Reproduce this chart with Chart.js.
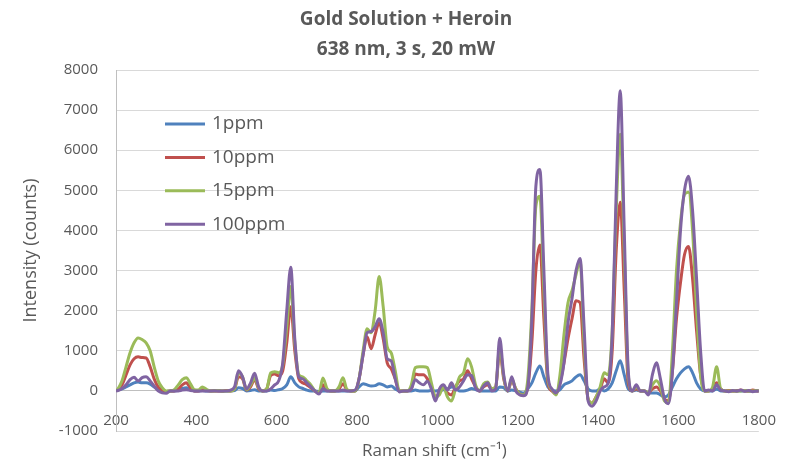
<!DOCTYPE html>
<html lang="en">
<head>
    <meta charset="UTF-8">
    <title>Gold Solution + Heroin</title>
    <script src="https://cdn.jsdelivr.net/npm/chart.js@4.4.1/dist/chart.umd.min.js"></script>
    <style>
        body { margin: 0; background: #fff; }
        #wrap { width: 797px; height: 463px; }
    </style>
</head>
<body>
    <div id="wrap"><canvas id="raman-chart"></canvas></div>

    <script>
        // Raman shift (cm-1) sampling points
        var shifts = [200,
            205, 215, 225, 235, 245, 255, 265, 275, 285, 295,
            305, 315, 325, 335, 345, 355, 365, 375, 385, 395,
            405, 415, 425, 435, 445, 455, 465, 475, 485, 495,
            505, 515, 525, 535, 545, 555, 565, 575, 585, 595,
            605, 615, 625, 635, 645, 655, 665, 675, 685, 695,
            705, 715, 725, 735, 745, 755, 765, 775, 785, 795,
            805, 815, 825, 835, 845, 855, 865, 875, 885, 895,
            905, 915, 925, 935, 945, 955, 965, 975, 985, 995,
            1005, 1015, 1025, 1035, 1045, 1055, 1065, 1075, 1085, 1095,
            1105, 1115, 1125, 1135, 1145, 1155, 1165, 1175, 1185, 1195,
            1205, 1215, 1225, 1235, 1245, 1255, 1265, 1275, 1285, 1295,
            1305, 1315, 1325, 1335, 1345, 1355, 1365, 1375, 1385, 1395,
            1405, 1415, 1425, 1435, 1445, 1455, 1465, 1475, 1485, 1495,
            1505, 1515, 1525, 1535, 1545, 1555, 1565, 1575, 1585, 1595,
            1605, 1615, 1625, 1635, 1645, 1655, 1665, 1675, 1685, 1695,
            1705, 1715, 1725, 1735, 1745, 1755, 1765, 1775, 1785, 1795,
            1800];

        var ppm1 = [0,
            20, 50, 100, 150, 200, 220, 200, 200, 170, 100,
            40, 0, -20, 0, 0, 20, 60, 80, 30, 0,
            0, 10, 0, 0, 10, 0, -10, 0, 0, 10,
            80, 60, 0, 10, 30, 0, 0, 0, 20, 10,
            30, 60, 150, 350, 200, 100, 60, 20, 0, 0,
            -20, 0, 0, 0, 0, 0, 0, 0, 0, 0,
            100, 180, 150, 120, 130, 180, 150, 100, 120, 50,
            0, 0, 0, 0, 20, 0, 0, 0, 10, 0,
            10, 30, 50, 100, 80, 0, 0, 20, 60, 30,
            0, 0, 0, 0, 0, 100, 80, 0, 20, 0,
            -30, -50, 50, 200, 450, 620, 350, 100, 20, 0,
            30, 150, 200, 250, 350, 400, 250, 50, 0, 0,
            50, 0, 50, 200, 500, 750, 400, 50, 0, 20,
            0, 0, -50, -50, -50, -100, -150, -100, 100, 300,
            450, 550, 600, 450, 200, 50, 0, 0, 0, 50,
            0, 0, 0, 0, 10, 0, 0, -10, 0, 0,
            0];

        var ppm10 = [0,
            30, 150, 400, 650, 800, 850, 830, 820, 600, 300,
            100, 30, -20, 0, 0, 50, 150, 200, 80, 0,
            0, 30, 10, 0, 0, 0, 0, 10, 0, 50,
            350, 300, 20, 100, 280, 50, 0, 50, 380, 420,
            380, 500, 1200, 2100, 1000, 300, 200, 150, 80, 0,
            -50, 150, 20, 0, 0, 50, 180, 20, 0, 0,
            300, 900, 1350, 1050, 1400, 1700, 1300, 700, 550, 300,
            0, 0, 0, 50, 420, 400, 400, 300, 100, -150,
            -50, 100, -50, -100, 100, 250, 300, 500, 300, 100,
            0, 100, 150, 50, 100, 1000, 300, 0, 250, 50,
            -80, -100, 100, 1200, 3000, 3640, 1800, 200, 0, -80,
            200, 700, 1300, 1800, 2250, 2200, 800, -200, -300, -150,
            50, 300, 200, 1000, 3500, 4700, 2500, 200, 0, 50,
            0, 0, -50, 50, 100, 0, -200, -250, 500, 1800,
            2700, 3400, 3600, 2800, 1500, 400, 0, 0, 50, 200,
            50, 0, 10, 0, 0, 20, 0, 0, 20, 0,
            0];

        var ppm15 = [0,
            50, 250, 600, 950, 1200, 1320, 1280, 1200, 1000, 600,
            250, 80, 0, 0, 30, 150, 280, 330, 180, 30,
            20, 100, 40, 0, 0, 10, 0, 0, 0, 50,
            450, 350, 30, 150, 320, 80, 0, 50, 450, 480,
            450, 650, 1600, 2600, 1200, 400, 350, 250, 150, 0,
            -50, 320, 60, 0, 0, 100, 330, 30, 0, 0,
            300, 1000, 1550, 1450, 2000, 2850, 2100, 1100, 950, 500,
            0, 0, 0, 150, 580, 600, 600, 580, 200, -150,
            -100, 100, -150, -250, 50, 350, 450, 800, 600, 150,
            0, 180, 220, 50, 100, 1100, 350, 0, 300, 50,
            -80, -100, 300, 2000, 4600, 4850, 2500, 300, 30, -100,
            400, 1400, 2200, 2500, 2900, 3250, 1200, -200, -300, -150,
            100, 450, 400, 1500, 4500, 6400, 3500, 400, 0, 100,
            0, 0, -50, 150, 250, 100, -250, -300, 1000, 3000,
            4200, 4900, 4950, 4000, 2000, 400, 0, 0, 100, 600,
            50, 0, 0, 0, -10, 0, 10, 0, 0, 10,
            0];

        var ppm100 = [0,
            10, 60, 150, 280, 340, 250, 330, 350, 250, 120,
            0, -50, -60, 0, 0, 0, 20, 30, 10, 0,
            0, 0, 0, 0, 0, 0, 0, 0, 20, 100,
            500, 350, 50, 200, 440, 100, 0, 0, 50, 150,
            250, 700, 2000, 3080, 1300, 350, 300, 200, 100, 0,
            -80, 60, 0, 0, 0, 0, 20, 0, 0, 20,
            300, 900, 1450, 1480, 1600, 1800, 1450, 800, 750, 300,
            -30, 0, 0, 50, 280, 200, 150, 240, 50, -250,
            50, 150, 20, 200, 20, 100, 250, 400, 380, 80,
            0, 120, 200, 0, 50, 1310, 400, 0, 350, 0,
            -100, -120, 100, 1800, 5100, 5520, 3000, 400, 50, -50,
            150, 700, 1700, 2300, 3000, 3300, 1600, -250, -380, -250,
            0, 100, 200, 1400, 5000, 7480, 4000, 500, 0, 150,
            0, 0, -100, 400, 700, 300, -200, -320, 500, 2200,
            4000, 5000, 5350, 4500, 2800, 1000, 0, 20, 0, 150,
            20, 0, -20, 10, -10, 20, -10, 10, -20, 0,
            0];

        var seriesNames = ['1ppm', '10ppm', '15ppm', '100ppm'];
        var seriesColors = ['#4f81bd', '#c0504d', '#9bbb59', '#8064a2'];
        var seriesValues = [ppm1, ppm10, ppm15, ppm100];

        var titleLines = ['Gold Solution + Heroin', '638 nm, 3 s, 20 mW'];
        var xTitle = 'Raman shift (cm\u207B\u00B9)';
        var yTitle = 'Intensity (counts)';

        var textColor = '#595959';
        var fontFamily = "'Open Sans', 'Liberation Sans', sans-serif";

        function toPoints(values) {
            return values.map(function (v, i) { return { x: shifts[i], y: v }; });
        }

        var datasets = seriesNames.map(function (name, i) {
            return {
                label: name,
                data: toPoints(seriesValues[i]),
                borderColor: seriesColors[i],
                backgroundColor: seriesColors[i],
                borderWidth: 3,
                pointRadius: 0,
                cubicInterpolationMode: 'monotone',
                order: 4 - i   // purple on top
            };
        });

        // legend sits inside the plot, top-left
        var insideLegend = {
            id: 'insideLegend',
            afterDatasetsDraw: function (chart) {
                var ctx = chart.ctx;
                var area = chart.chartArea;
                ctx.save();
                ctx.font = '19px ' + fontFamily;
                ctx.textBaseline = 'middle';
                ctx.textAlign = 'left';
                chart.data.datasets.forEach(function (ds, i) {
                    var y = area.top + 54 + i * 33.4;
                    ctx.strokeStyle = ds.borderColor;
                    ctx.lineWidth = 3;
                    ctx.beginPath();
                    ctx.moveTo(area.left + 49, y);
                    ctx.lineTo(area.left + 89, y);
                    ctx.stroke();
                    ctx.fillStyle = textColor;
                    ctx.fillText(ds.label, area.left + 96, y);
                });
                ctx.restore();
            }
        };

        // chart title and x axis title
        var titles = {
            id: 'titles',
            afterDraw: function (chart) {
                var ctx = chart.ctx;
                var area = chart.chartArea;
                ctx.save();
                ctx.fillStyle = textColor;
                ctx.textAlign = 'center';
                ctx.textBaseline = 'middle';
                ctx.font = 'bold 19px ' + fontFamily;
                ctx.fillText(titleLines[0], 406, 20);
                ctx.fillText(titleLines[1], 406, 50);
                ctx.font = '17px ' + fontFamily;
                ctx.fillText(xTitle, (area.left + area.right) / 2 - 3, 451);
                ctx.restore();
            }
        };

        function plainNumber(value) {
            return String(value);
        }

        var ctx = document.getElementById('raman-chart').getContext('2d');
        var chart = new Chart(ctx, {
            type: 'line',
            data: { datasets: datasets },
            plugins: [insideLegend, titles],
            options: {
                responsive: true,
                maintainAspectRatio: false,
                animation: false,
                layout: { padding: { top: 70, right: 24, bottom: 32, left: 0 } },
                plugins: {
                    legend: { display: false },
                    title: { display: false },
                    tooltip: { enabled: false }
                },
                scales: {
                    x: {
                        type: 'linear',
                        position: { y: 0 },
                        min: 200,
                        max: 1800,
                        grid: { display: false, drawTicks: false },
                        border: { display: true, color: '#bfbfbf', width: 1 },
                        ticks: {
                            stepSize: 200,
                            autoSkip: false,
                            maxRotation: 0,
                            padding: 21,
                            color: textColor,
                            font: { family: fontFamily, size: 15 },
                            callback: plainNumber
                        }
                    },
                    y: {
                        min: -1000,
                        max: 8000,
                        afterFit: function (scale) { scale.width = 116; },
                        grid: { color: '#d9d9d9', lineWidth: 1, drawTicks: false },
                        border: { display: true, color: '#bfbfbf', width: 1 },
                        ticks: {
                            stepSize: 1000,
                            padding: 18,
                            color: textColor,
                            font: { family: fontFamily, size: 15 },
                            callback: plainNumber
                        },
                        title: {
                            display: true,
                            text: yTitle,
                            color: textColor,
                            font: { family: fontFamily, size: 18 },
                            padding: { top: 20, bottom: 0 }
                        }
                    }
                }
            }
        });
    </script>
</body>
</html>
